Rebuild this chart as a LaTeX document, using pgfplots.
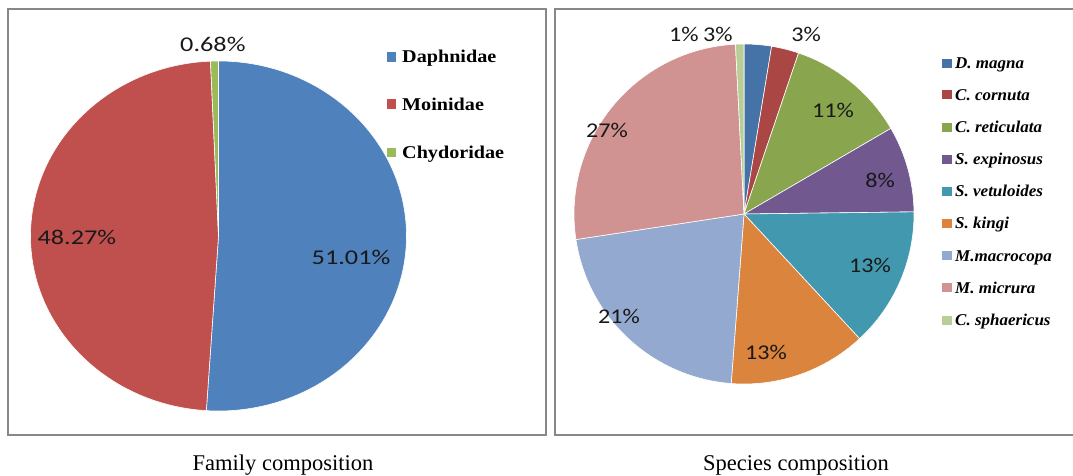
\documentclass[border=0pt]{standalone}
\usepackage{fontspec}
\setmainfont{Liberation Serif}
\newfontfamily\calib{Carlito}
\usepackage{graphicx}
\usepackage{pgfplots}
\usepackage{pgfplotstable}
\pgfplotsset{compat=1.18}

\definecolor{fam0}{HTML}{4F81BD}
\definecolor{fam1}{HTML}{C0504D}
\definecolor{fam2}{HTML}{9BBB59}
\definecolor{sp0}{HTML}{4572A7}
\definecolor{sp1}{HTML}{AA4643}
\definecolor{sp2}{HTML}{89A54E}
\definecolor{sp3}{HTML}{71588F}
\definecolor{sp4}{HTML}{4198AF}
\definecolor{sp5}{HTML}{DB843D}
\definecolor{sp6}{HTML}{93A9CF}
\definecolor{sp7}{HTML}{D19392}
\definecolor{sp8}{HTML}{B9CD96}
\definecolor{boxgray}{HTML}{878787}

\pgfplotstableread{
name value
Daphnidae 51.01
Moinidae 48.27
Chydoridae 0.68
}\famtab

\pgfplotstableread{
name value
D.magna 2.6
C.cornuta 2.6
C.reticulata 11.4
S.expinosus 8.2
S.vetuloides 13.3
S.kingi 13.1
M.macrocopa 21.4
M.micrura 26.6
C.sphaericus 0.8
}\sptab

\newcommand\pieslices[2]{%
  \pgfplotstablegetrowsof{#1}%
  \pgfmathtruncatemacro\pielast{\pgfplotsretval-1}%
  \gdef\pietotal{0}%
  \foreach \i in {0,...,\pielast}{%
    \pgfplotstablegetelem{\i}{value}\of{#1}%
    \pgfmathsetmacro\pietmp{\pietotal+\pgfplotsretval}%
    \global\let\pietotal\pietmp}%
  \pgfmathsetmacro\piefac{360/\pietotal}%
  \global\let\piefac\piefac
  \gdef\piecum{0}%
  \foreach \i in {0,...,\pielast}{%
    \pgfplotstablegetelem{\i}{value}\of{#1}%
    \pgfmathsetmacro\piesa{90-\piecum*\piefac}%
    \pgfmathsetmacro\pienew{\piecum+\pgfplotsretval}%
    \pgfmathsetmacro\pieea{90-\pienew*\piefac}%
    \pgfmathsetmacro\piesx{cos(\piesa)}%
    \pgfmathsetmacro\piesy{sin(\piesa)}%
    \edef\pietmpcmd{\noexpand\fill[#2\i, draw=white, line width=0.6pt] (axis cs:0,0) -- (axis cs:\piesx,\piesy) arc[start angle=\piesa, end angle=\pieea, x radius=1, y radius=1] -- cycle;}%
    \pietmpcmd
    \global\let\piecum\pienew}%
}

\begin{document}
\begin{tikzpicture}[x=1pt,y=1pt]
\path[use as bounding box] (0,0) rectangle (1073,475);
% boxes
\draw[boxgray, line width=2pt] (7.5,466) rectangle (546,40.5);
\draw[boxgray, line width=2pt] (555,466) rectangle (1080,40.5);

\begin{axis}[at={(30.5pt,64pt)}, anchor=south west, scale only axis,
  width=376pt, height=350pt, xmin=-1, xmax=1, ymin=-1, ymax=1,
  hide axis, clip=false]
  \pieslices{\famtab}{fam}
  \tikzset{lbl/.style={font=\calib\fontsize{21}{24}\selectfont, text=black!90}}
  \node[lbl] at (axis cs:0.705,-0.12) {\scalebox{1.25}[1]{51.01\%}};
  \node[lbl] at (axis cs:-0.753,-0.006) {\scalebox{1.25}[1]{48.27\%}};
  \node[lbl] at (axis cs:-0.03,1.097) {\scalebox{1.25}[1]{0.68\%}};
\end{axis}

\begin{axis}[at={(574pt,91pt)}, anchor=south west, scale only axis,
  width=340pt, height=340pt, xmin=-1, xmax=1, ymin=-1, ymax=1,
  hide axis, clip=false]
  \pieslices{\sptab}{sp}
  \tikzset{lbl/.style={font=\calib\fontsize{21}{24}\selectfont, text=black!90}}
  \node[lbl] at (axis cs:-0.353,1.059) {\scalebox{1.15}[1]{1\%}};
  \node[lbl] at (axis cs:-0.153,1.059) {\scalebox{1.15}[1]{3\%}};
  \node[lbl] at (axis cs:0.365,1.059) {\scalebox{1.15}[1]{3\%}};
  \node[lbl] at (axis cs:0.524,0.612) {\scalebox{1.15}[1]{11\%}};
  \node[lbl] at (axis cs:0.80,0.20) {\scalebox{1.15}[1]{8\%}};
  \node[lbl] at (axis cs:0.741,-0.30) {\scalebox{1.15}[1]{13\%}};
  \node[lbl] at (axis cs:0.129,-0.812) {\scalebox{1.15}[1]{13\%}};
  \node[lbl] at (axis cs:-0.735,-0.60) {\scalebox{1.15}[1]{21\%}};
  \node[lbl] at (axis cs:-0.806,0.494) {\scalebox{1.15}[1]{27\%}};
\end{axis}

% left legend
\foreach \c/\y/\t in {fam0/57/Daphnidae, fam1/104/Moinidae, fam2/152.7/Chydoridae}{
  \fill[\c] (387.3,475-\y-4.6) rectangle (396.3,475-\y+4.6);
  \node[anchor=base west, inner sep=0pt, font=\bfseries\fontsize{18}{20}\selectfont] at (402,475-\y-6) {\scalebox{1.12}[1]{\t}};
}
% right legend
\foreach \c/\y/\t in {sp0/63.3/D. magna, sp1/95/C. cornuta, sp2/127/C. reticulata, sp3/159/S. expinosus, sp4/191/S. vetuloides, sp5/223.3/S. kingi, sp6/255.7/M.macrocopa, sp7/287.7/M. micrura, sp8/320.3/C. sphaericus}{
  \fill[\c] (942,475-\y-4.5) rectangle (951.5,475-\y+4.5);
  \node[anchor=base west, inner sep=0pt, font=\bfseries\itshape\fontsize{16.5}{18}\selectfont] at (955,475-\y-5.5) {\scalebox{1.03}[1]{\t}};
}
% captions
\node[anchor=base, inner sep=0pt, font=\fontsize{22.5}{24}\selectfont] at (283,4.5) {Family composition};
\node[anchor=base, inner sep=0pt, font=\fontsize{22.5}{24}\selectfont] at (796,4.5) {Species composition};
\end{tikzpicture}
\end{document}
